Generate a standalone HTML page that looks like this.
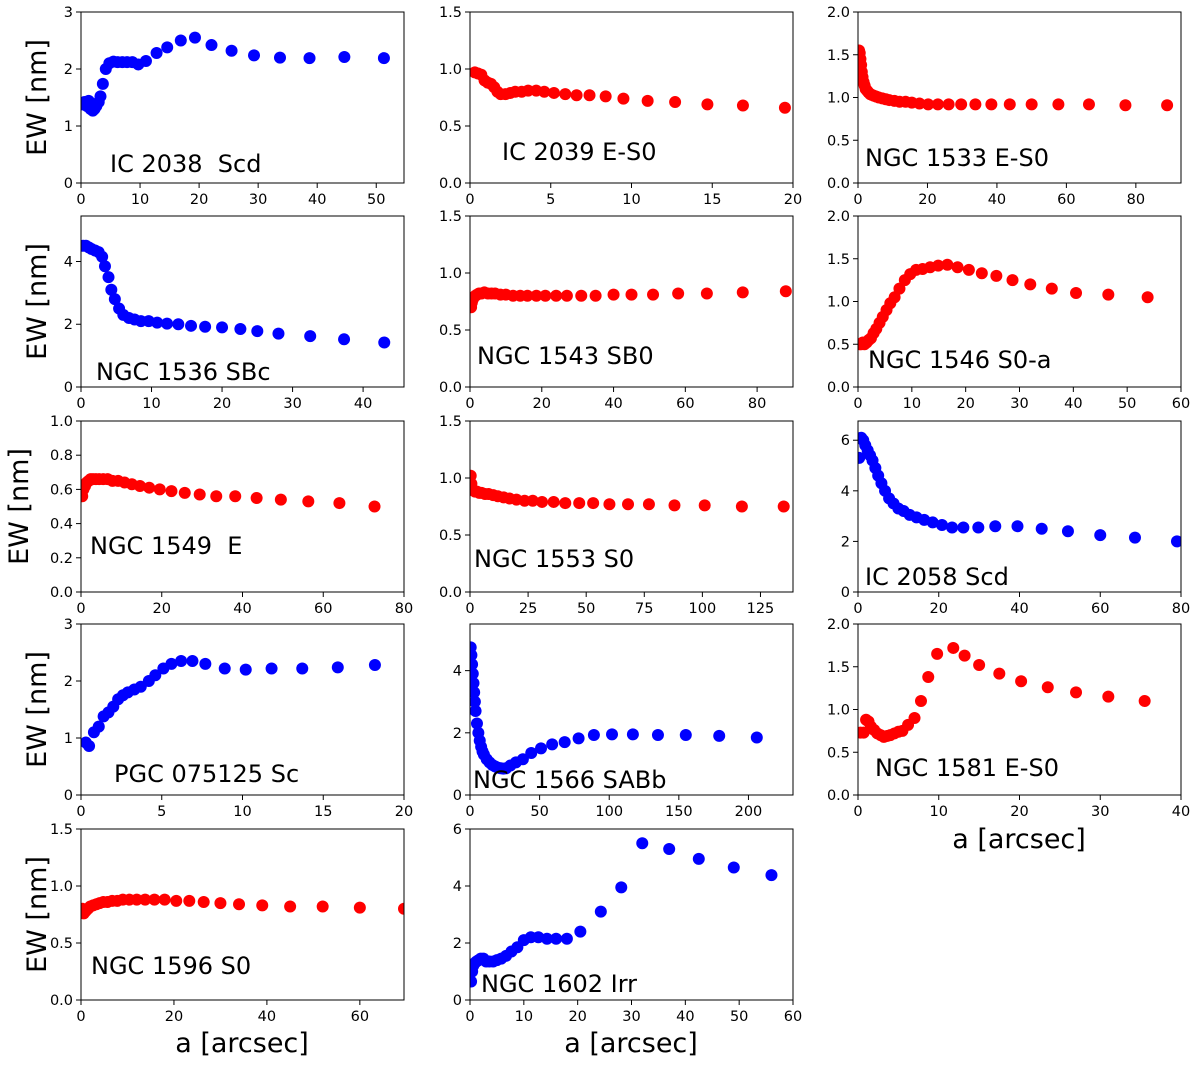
<!DOCTYPE html>
<html><head><meta charset="utf-8"><style>
body{margin:0;background:#fff}
svg{display:block;font-family:"DejaVu Sans","Liberation Sans",sans-serif}
text{white-space:pre}
</style></head><body>
<svg id="fig" width="1200" height="1066" viewBox="0 0 1200 1066"></svg>
<script>
const p1x=[.3,.6,1,1.3,1.6,2,2.3,2.6,3,3.3,3.7,4.2,4.8,5.5,6.2,7,7.8,8.7,9.7,11,12.8,14.6,16.9,19.3,22.1,25.5,29.3,33.7,38.7,44.6,51.3];
const p1y=[1.38,1.42,1.35,1.44,1.3,1.27,1.3,1.35,1.42,1.52,1.74,2.0,2.1,2.13,2.12,2.12,2.12,2.12,2.08,2.14,2.28,2.38,2.5,2.55,2.42,2.32,2.24,2.2,2.19,2.21,2.19];
const p2x=[.3,.5,.7,.9,1.1,1.3,1.5,1.7,1.9,2.2,2.5,2.8,3.2,3.6,4.1,4.6,5.2,5.9,6.6,7.4,8.4,9.5,11,12.7,14.7,16.9,19.5];
const p2y=[.97,.96,.95,.9,.88,.87,.84,.8,.78,.78,.79,.8,.8,.81,.81,.8,.79,.78,.77,.77,.76,.74,.72,.71,.69,.68,.66];
const p3x=[.3,.5,.7,.9,1.1,1.3,1.6,1.9,2.2,2.6,3,3.5,4,4.6,5.3,6,7,8,9,10.5,12,13.7,15.5,17.7,20.2,23,26.1,29.7,33.8,38.4,43.7,50,57.7,66.5,77,89];
const p3y=[1.55,1.52,1.45,1.38,1.3,1.24,1.18,1.14,1.1,1.08,1.06,1.04,1.03,1.02,1.01,1.0,.99,.98,.97,.96,.95,.95,.94,.93,.92,.92,.92,.92,.92,.92,.92,.92,.92,.92,.91,.91];
const p4x=[.3,.7,1.1,1.5,2,2.5,3,3.4,3.9,4.3,4.8,5.4,6,6.8,7.6,8.5,9.6,10.8,12.2,13.8,15.6,17.6,20,22.6,25,28,32.5,37.3,43];
const p4y=[4.5,4.5,4.45,4.4,4.35,4.3,4.15,3.85,3.5,3.1,2.8,2.5,2.3,2.2,2.15,2.1,2.1,2.05,2.02,2.0,1.95,1.92,1.9,1.85,1.78,1.7,1.62,1.52,1.42];
const p5x=[.3,.5,.8,1.1,1.5,2,2.5,3.2,4,5,6,7,8.5,10,12,14,16,18.5,21,24,27,31,35,40,45,51,58,66,76,88];
const p5y=[.7,.74,.77,.79,.8,.81,.82,.82,.83,.82,.82,.82,.81,.81,.8,.8,.8,.8,.8,.8,.8,.8,.8,.81,.81,.81,.82,.82,.83,.84];
const p6x=[.3,.6,.9,1.2,1.6,2,2.4,2.9,3.4,4,4.6,5.3,6,6.8,7.7,8.7,9.7,10.8,12,13.4,14.9,16.6,18.5,20.6,23,25.7,28.7,32,36,40.5,46.5,53.8];
const p6y=[.5,.5,.52,.5,.52,.55,.57,.63,.68,.75,.82,.9,.98,1.05,1.15,1.25,1.32,1.37,1.38,1.4,1.42,1.43,1.4,1.37,1.33,1.3,1.25,1.2,1.15,1.1,1.08,1.05];
const p7x=[.3,.6,1,1.4,1.9,2.4,3,3.7,4.5,5.5,6.6,7.8,9.2,10.8,12.6,14.6,16.9,19.5,22.4,25.7,29.4,33.5,38.2,43.5,49.5,56.3,64,72.7];
const p7y=[.56,.6,.62,.64,.65,.66,.66,.66,.66,.66,.66,.65,.65,.64,.63,.62,.61,.6,.59,.58,.57,.56,.56,.55,.54,.53,.52,.5];
const p8x=[.3,.6,1,1.5,2.2,3,4,5,6.5,8,10,12,14.5,17,20,23.5,27,31,36,41,47,53,60,68,77,88,101,117,135];
const p8y=[1.02,.95,.9,.89,.88,.88,.87,.87,.86,.86,.85,.84,.83,.82,.81,.8,.8,.79,.79,.78,.78,.78,.77,.77,.77,.76,.76,.75,.75];
const p9x=[.3,.8,1.3,1.8,2.4,3,3.6,4.3,5,5.8,6.7,7.7,8.8,10,11.3,12.8,14.5,16.4,18.5,20.8,23.3,26.1,29.8,34,39.5,45.5,52,60,68.6,79];
const p9y=[5.3,6.1,6.0,5.8,5.6,5.4,5.2,4.9,4.6,4.3,4.0,3.7,3.5,3.3,3.2,3.05,2.95,2.85,2.75,2.65,2.55,2.55,2.55,2.6,2.6,2.5,2.4,2.25,2.15,2.0];
const p10x=[.3,.5,.8,1.1,1.4,1.7,2,2.3,2.6,2.9,3.3,3.7,4.2,4.6,5.1,5.6,6.2,6.9,7.7,8.9,10.2,11.8,13.7,15.9,18.2];
const p10y=[.92,.86,1.1,1.2,1.38,1.45,1.55,1.68,1.75,1.8,1.85,1.9,2.0,2.1,2.22,2.3,2.35,2.35,2.3,2.22,2.2,2.22,2.22,2.24,2.28];
const p11x=[0.5,1,1.5,2,2.5,3,3.5,4,5,6,7,8,9,10,12,14,16,18,20,22,24,26,29,33,38,44,51,59,68,78,89,102,117,135,155,179,206];
const p11y=[4.75,4.5,4.2,3.9,3.6,3.3,3.0,2.7,2.3,2.0,1.75,1.55,1.4,1.3,1.15,1.05,.97,.92,.88,.86,.85,.86,.95,1.05,1.15,1.35,1.5,1.63,1.7,1.82,1.93,1.95,1.95,1.93,1.93,1.9,1.85];
const p12x=[.3,.7,1,1.3,1.6,2,2.4,2.8,3.2,3.6,4,4.5,5,5.5,6.2,7,7.8,8.7,9.8,11.8,13.2,15,17.5,20.2,23.5,27,31,35.5];
const p12y=[.73,.73,.88,.86,.8,.76,.72,.7,.68,.69,.7,.72,.74,.75,.82,.9,1.1,1.38,1.65,1.72,1.63,1.52,1.42,1.33,1.26,1.2,1.15,1.1];
const p13x=[.3,.6,1,1.5,2,2.6,3.3,4,4.8,5.7,6.7,7.8,9,10.4,12,13.8,15.8,18,20.5,23.3,26.4,30,34,39,45,52,60,69.5];
const p13y=[.8,.76,.78,.8,.82,.83,.84,.85,.86,.86,.87,.87,.88,.88,.88,.88,.88,.88,.87,.87,.86,.85,.84,.83,.82,.82,.81,.8];
const p14x=[.2,.4,.6,.9,1.2,1.6,2,2.5,3,3.6,4.3,5,5.8,6.7,7.7,8.8,10,11.3,12.7,14.3,16,18,20.5,24.3,28.1,32,37,42.5,49,56];
const p14y=[.65,1.0,1.2,1.3,1.35,1.4,1.45,1.45,1.35,1.35,1.35,1.4,1.45,1.55,1.7,1.85,2.1,2.2,2.2,2.15,2.15,2.15,2.4,3.1,3.95,5.5,5.3,4.95,4.65,4.38];
const titles=["IC 2038  Scd","IC 2039 E-S0","NGC 1533 E-S0","NGC 1536 SBc","NGC 1543 SB0","NGC 1546 S0-a","NGC 1549  E","NGC 1553 S0","IC 2058 Scd","PGC 075125 Sc","NGC 1566 SABb","NGC 1581 E-S0","NGC 1596 S0","NGC 1602 Irr"];
const xticksAll=[[0,10,20,30,40,50],[0,5,10,15,20],[0,20,40,60,80],[0,10,20,30,40],[0,20,40,60,80],[0,10,20,30,40,50,60],[0,20,40,60,80],[0,25,50,75,100,125],[0,20,40,60,80],[0,5,10,15,20],[0,50,100,150,200],[0,10,20,30,40],[0,20,40,60],[0,10,20,30,40,50,60]];
const yticksAll=[["0","1","2","3"],["0.0","0.5","1.0","1.5"],["0.0","0.5","1.0","1.5","2.0"],["0","2","4"],["0.0","0.5","1.0","1.5"],["0.0","0.5","1.0","1.5","2.0"],["0.0","0.2","0.4","0.6","0.8","1.0"],["0.0","0.5","1.0","1.5"],["0","2","4","6"],["0","1","2","3"],["0","2","4"],["0.0","0.5","1.0","1.5","2.0"],["0.0","0.5","1.0","1.5"],["0","2","4","6"]];
const xmaxAll=[54.7,20,93,45.8,90,60,80,139,80,20,232,40,69.5,60];
const ymaxAll=[3,1.5,2,5.45,1.5,2,1,1.5,6.76,3,5.5,2,1.5,6];
const colorsAll=["blue","red","red","blue","red","red","red","red","blue","blue","blue","red","red","blue"];
const xs=[p1x,p2x,p3x,p4x,p5x,p6x,p7x,p8x,p9x,p10x,p11x,p12x,p13x,p14x];
const ys=[p1y,p2y,p3y,p4y,p5y,p6y,p7y,p8y,p9y,p10y,p11y,p12y,p13y,p14y];
const labelPos=[[110,172],[502,160],[865,166],[96,380],[477,364],[868,368],[90,554],[474,567],[865,585],[114,782],[473,788],[875,776],[91,974],[481,992]];

const NS="http://www.w3.org/2000/svg";
const fig=document.getElementById('fig');
function mk(tag,attrs,parent){const e=document.createElementNS(NS,tag);for(const k in attrs)e.setAttribute(k,attrs[k]);(parent||fig).appendChild(e);return e;}
const colL=[81,470,858], rowT=[12,216,421,624,829], W=323, H=171;
const defs=mk('defs',{});
for(let i=0;i<14;i++){
  const r=Math.floor(i/3), c=i%3;
  const L=colL[c], T=rowT[r], B=T+H;
  const xm=xmaxAll[i], ym=ymaxAll[i];
  const sx=v=>L+v/xm*W, sy=v=>B-v/ym*H;
  const g=mk('g',{});
  
  
  const cp=mk('clipPath',{id:'cp'+i},defs);
  mk('rect',{x:L,y:T,width:W,height:H},cp);
  const pts=mk('g',{'clip-path':'url(#cp'+i+')'},g);
  
  
  for(let k=0;k<xs[i].length;k++){
    const d=mk('circle',{cx:sx(xs[i][k]),cy:sy(ys[i][k]),r:6,fill:colorsAll[i]},pts);
    
    
  }
  const fr=mk('rect',{x:L,y:T,width:W,height:H,fill:'none',stroke:'#000','stroke-width':1},g);
  
  
  xticksAll[i].forEach(v=>{
    const x=sx(v);
    mk('line',{x1:x,x2:x,y1:B,y2:B+5,stroke:'#000'},g);
    const t=mk('text',{x:x,y:B+21,'text-anchor':'middle','font-size':14.5,fill:'#000'},g);
    t.textContent=v;
    
    
  });
  yticksAll[i].forEach(s=>{
    const y=sy(parseFloat(s));
    mk('line',{x1:L-5,x2:L,y1:y,y2:y,stroke:'#000'},g);
    const t=mk('text',{x:L-8,y:y+5,'text-anchor':'end','font-size':14.5,fill:'#000'},g);
    t.textContent=s;
    
    
  });
  const lt=mk('text',{x:labelPos[i][0],y:labelPos[i][1],'font-size':24,fill:'#000'},g);
  lt.textContent=titles[i];
  
  
}
const yLabX=[46,46,28,46,46];
for(let r=0;r<5;r++){
  const cy=rowT[r]+H/2;
  const t=mk('text',{x:0,y:0,'font-size':27,'text-anchor':'middle',transform:'translate('+yLabX[r]+','+cy+') rotate(-90)'});
  t.textContent='EW [nm]';
  
  
}
[[242,1052],[631,1052],[1019,848]].forEach(p=>{
  const t=mk('text',{x:p[0],y:p[1],'font-size':27,'text-anchor':'middle'});
  t.textContent='a [arcsec]';
  
  
});
</script>
</body></html>
